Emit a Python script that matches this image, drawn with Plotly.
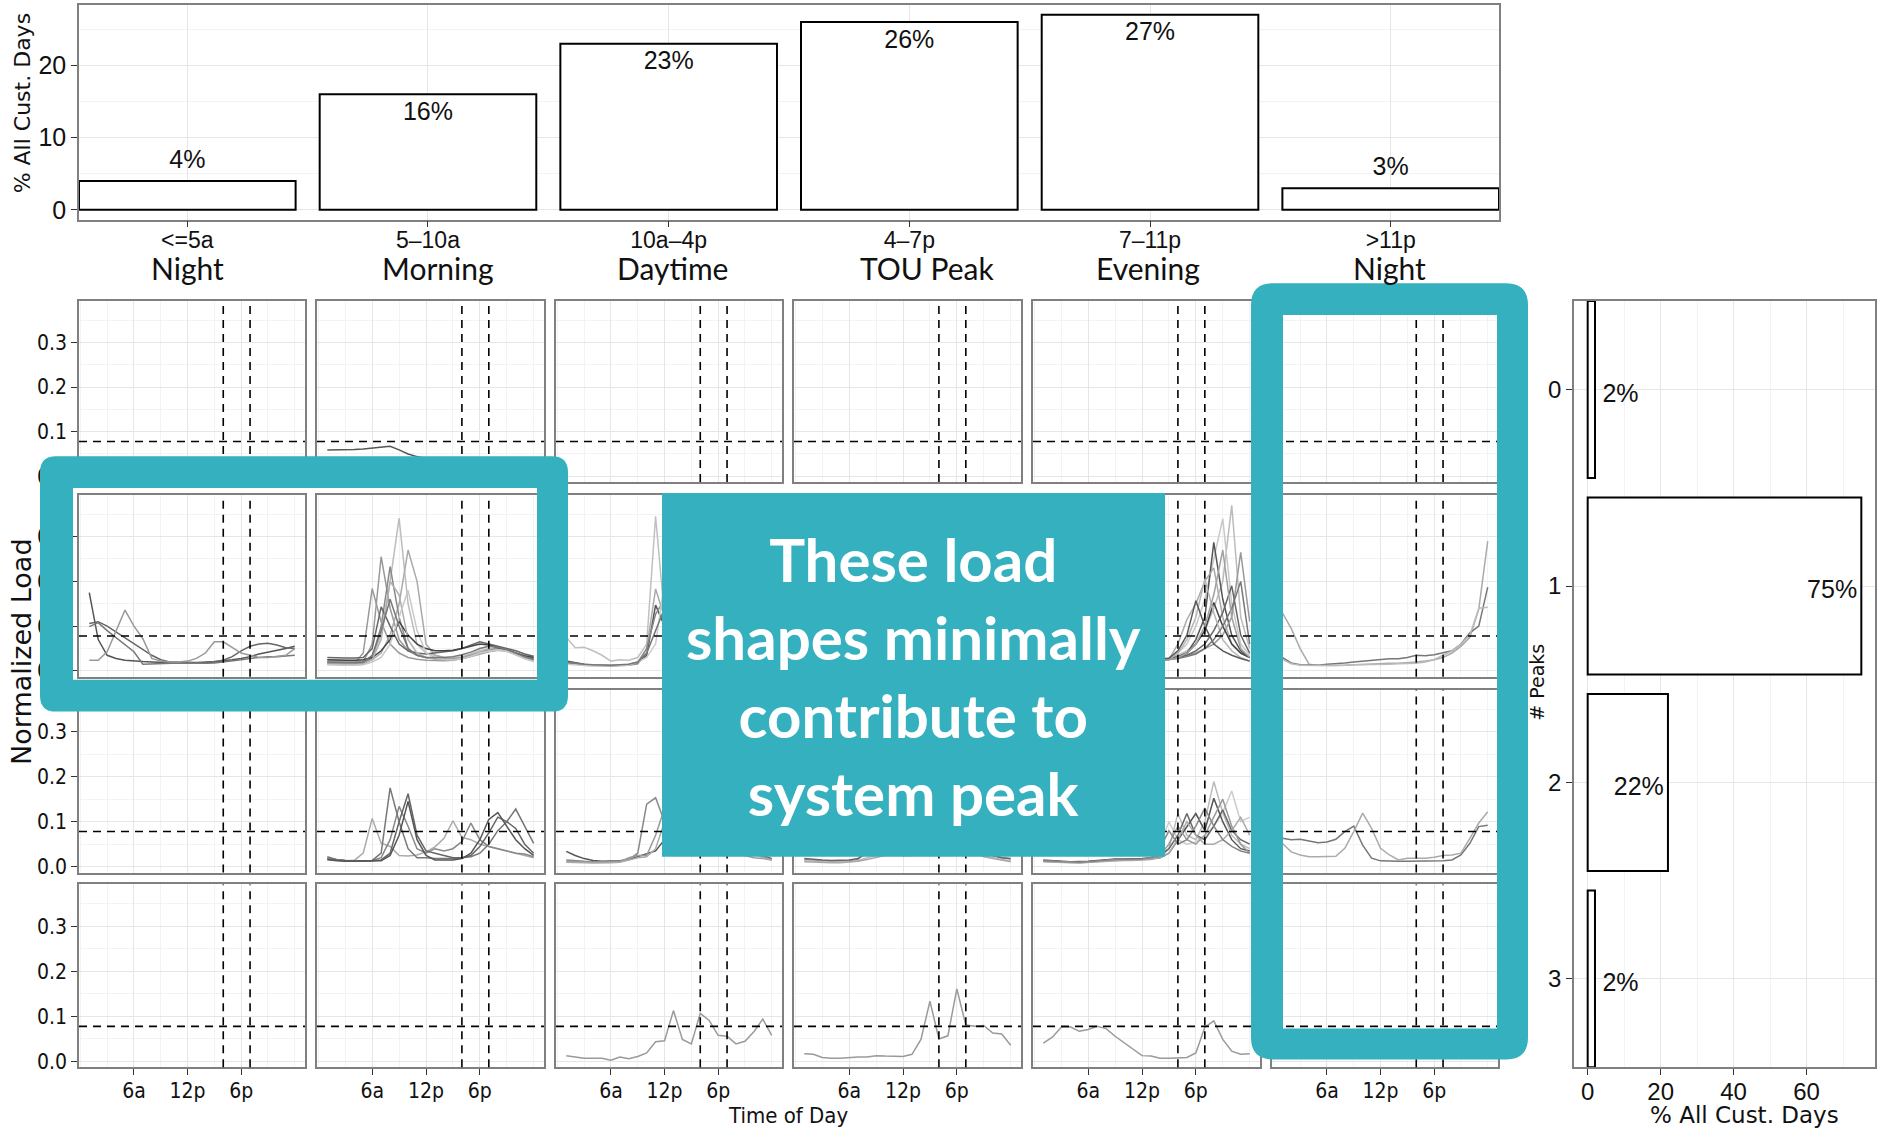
import plotly.graph_objects as go

W, H = 1883, 1130

# ---------------- data ----------------
time_labels = ["<=5a", "5–10a", "10a–4p", "4–7p", "7–11p", ">11p"]
period_names = ["Night", "Morning", "Daytime", "TOU Peak", "Evening", "Night"]
peak_time_share = [4, 16, 23, 26, 27, 3]          # % of all customer-days

n_peaks = [0, 1, 2, 3]
n_peaks_share = [2, 75, 22, 2]                    # % of all customer-days

hours = list(range(1, 25))
hour_ticks = [6, 12, 18]
hour_tick_labels = ["6a", "12p", "6p"]
load_ticks = [0.0, 0.1, 0.2, 0.3]
load_tick_labels = ["0.0", "0.1", "0.2", "0.3"]
top_share_ticks = [0, 10, 20]
right_share_ticks = [0, 20, 40, 60]

tou_window = [16, 19]        # 4p and 7p
peak_threshold = 0.078       # normalized load threshold for a "peak"

# normalized hourly load shapes, grouped by (# peaks, time of main peak)
morning_0peak = [
    [0.059, 0.059, 0.059, 0.060, 0.061, 0.063, 0.065, 0.067, 0.059, 0.050, 0.044, 0.040,
     0.038, 0.037, 0.037, 0.038, 0.039, 0.040, 0.041, 0.041, 0.040, 0.039, 0.038, 0.037],
]
morning_0peak_greys = ["#555555"]

night_1peak = [
    [0.175, 0.070, 0.035, 0.028, 0.024, 0.022, 0.021, 0.020, 0.019, 0.019, 0.018, 0.018,
     0.018, 0.019, 0.020, 0.022, 0.025, 0.028, 0.032, 0.038, 0.042, 0.045, 0.050, 0.055],
    [0.106, 0.110, 0.100, 0.087, 0.075, 0.061, 0.048, 0.035, 0.025, 0.020, 0.020, 0.019,
     0.019, 0.020, 0.021, 0.024, 0.032, 0.045, 0.055, 0.060, 0.062, 0.058, 0.052, 0.050],
    [0.099, 0.108, 0.090, 0.075, 0.060, 0.043, 0.015, 0.016, 0.017, 0.018, 0.018, 0.018,
     0.017, 0.017, 0.018, 0.020, 0.022, 0.025, 0.028, 0.030, 0.032, 0.032, 0.033, 0.035],
    [0.024, 0.024, 0.043, 0.090, 0.136, 0.100, 0.072, 0.028, 0.022, 0.020, 0.020, 0.022,
     0.028, 0.040, 0.065, 0.065, 0.052, 0.040, 0.035, 0.030, 0.030, 0.032, 0.035, 0.050],
]
night_1peak_greys = ["#555555", "#666666", "#777777", "#999999"]

morning_1peak = [
    [0.025, 0.024, 0.023, 0.023, 0.024, 0.030, 0.080, 0.200, 0.341, 0.150, 0.060, 0.040,
     0.035, 0.030, 0.030, 0.032, 0.038, 0.045, 0.050, 0.052, 0.048, 0.040, 0.032, 0.028],
    [0.020, 0.019, 0.019, 0.019, 0.020, 0.060, 0.255, 0.140, 0.070, 0.045, 0.035, 0.030,
     0.028, 0.027, 0.027, 0.030, 0.035, 0.040, 0.045, 0.048, 0.045, 0.038, 0.030, 0.025],
    [0.022, 0.021, 0.021, 0.021, 0.022, 0.025, 0.040, 0.080, 0.150, 0.270, 0.200, 0.060,
     0.035, 0.030, 0.028, 0.030, 0.036, 0.042, 0.048, 0.050, 0.046, 0.040, 0.032, 0.026],
    [0.018, 0.017, 0.017, 0.017, 0.018, 0.030, 0.100, 0.233, 0.120, 0.050, 0.035, 0.030,
     0.027, 0.026, 0.026, 0.028, 0.034, 0.040, 0.046, 0.050, 0.047, 0.040, 0.030, 0.024],
    [0.017, 0.016, 0.016, 0.016, 0.040, 0.184, 0.110, 0.060, 0.040, 0.030, 0.026, 0.024,
     0.023, 0.023, 0.024, 0.027, 0.032, 0.038, 0.043, 0.046, 0.044, 0.037, 0.029, 0.023],
    [0.030, 0.029, 0.029, 0.029, 0.030, 0.050, 0.143, 0.100, 0.060, 0.045, 0.040, 0.038,
     0.040, 0.042, 0.045, 0.050, 0.057, 0.065, 0.060, 0.055, 0.050, 0.045, 0.038, 0.033],
    [0.025, 0.024, 0.024, 0.024, 0.025, 0.030, 0.045, 0.070, 0.110, 0.080, 0.060, 0.050,
     0.045, 0.045, 0.046, 0.050, 0.055, 0.060, 0.058, 0.052, 0.047, 0.040, 0.034, 0.030],
    [0.015, 0.014, 0.014, 0.014, 0.015, 0.025, 0.070, 0.200, 0.170, 0.070, 0.040, 0.030,
     0.026, 0.025, 0.025, 0.027, 0.033, 0.040, 0.045, 0.048, 0.045, 0.038, 0.028, 0.022],
    [0.014, 0.013, 0.013, 0.013, 0.014, 0.020, 0.030, 0.060, 0.120, 0.180, 0.090, 0.040,
     0.030, 0.026, 0.025, 0.027, 0.033, 0.040, 0.044, 0.047, 0.044, 0.036, 0.027, 0.021],
    [0.020, 0.019, 0.019, 0.019, 0.020, 0.035, 0.090, 0.160, 0.100, 0.050, 0.035, 0.030,
     0.030, 0.030, 0.032, 0.036, 0.042, 0.050, 0.055, 0.053, 0.048, 0.040, 0.032, 0.026],
]
morning_1peak_greys = ["#bdbdbd", "#999999", "#aaaaaa", "#888888", "#9a9a9a",
                       "#666666", "#444444", "#b0b0b0", "#c8c8c8", "#777777"]

daytime_1peak = [
    [0.075, 0.052, 0.053, 0.045, 0.035, 0.022, 0.025, 0.024, 0.030, 0.060, 0.345, 0.120,
     0.060, 0.045, 0.040, 0.035, 0.030, 0.030, 0.028, 0.027, 0.026, 0.025, 0.024, 0.024],
    [0.020, 0.016, 0.014, 0.013, 0.012, 0.012, 0.013, 0.015, 0.020, 0.050, 0.183, 0.120,
     0.070, 0.050, 0.040, 0.035, 0.030, 0.028, 0.027, 0.025, 0.024, 0.022, 0.020, 0.020],
    [0.022, 0.018, 0.015, 0.013, 0.012, 0.012, 0.013, 0.014, 0.018, 0.035, 0.147, 0.100,
     0.060, 0.040, 0.035, 0.030, 0.028, 0.026, 0.025, 0.024, 0.022, 0.021, 0.020, 0.020],
    [0.018, 0.015, 0.013, 0.012, 0.011, 0.011, 0.012, 0.013, 0.016, 0.050, 0.127, 0.160,
     0.090, 0.050, 0.040, 0.032, 0.030, 0.028, 0.026, 0.025, 0.023, 0.022, 0.020, 0.019],
    [0.015, 0.013, 0.012, 0.011, 0.011, 0.011, 0.012, 0.013, 0.020, 0.030, 0.060, 0.200,
     0.250, 0.100, 0.050, 0.040, 0.035, 0.030, 0.028, 0.026, 0.025, 0.023, 0.021, 0.020],
    [0.020, 0.017, 0.015, 0.014, 0.013, 0.013, 0.014, 0.015, 0.020, 0.040, 0.090, 0.140,
     0.100, 0.060, 0.045, 0.040, 0.035, 0.032, 0.030, 0.028, 0.026, 0.024, 0.022, 0.021],
]
daytime_1peak_greys = ["#c0c0c0", "#aaaaaa", "#555555", "#888888", "#cccccc", "#777777"]

tou_1peak = [
    [0.020, 0.018, 0.016, 0.015, 0.015, 0.016, 0.020, 0.025, 0.025, 0.024, 0.024, 0.025,
     0.030, 0.040, 0.070, 0.220, 0.150, 0.080, 0.050, 0.040, 0.035, 0.030, 0.025, 0.022],
    [0.018, 0.016, 0.015, 0.014, 0.014, 0.015, 0.018, 0.022, 0.022, 0.022, 0.022, 0.024,
     0.028, 0.035, 0.050, 0.090, 0.180, 0.100, 0.060, 0.045, 0.038, 0.032, 0.026, 0.021],
    [0.015, 0.014, 0.013, 0.012, 0.012, 0.013, 0.016, 0.020, 0.020, 0.020, 0.021, 0.022,
     0.025, 0.030, 0.040, 0.070, 0.120, 0.300, 0.120, 0.060, 0.040, 0.030, 0.024, 0.019],
    [0.022, 0.020, 0.018, 0.017, 0.017, 0.018, 0.022, 0.026, 0.026, 0.025, 0.025, 0.026,
     0.030, 0.035, 0.045, 0.060, 0.090, 0.120, 0.150, 0.080, 0.050, 0.038, 0.030, 0.025],
]
tou_1peak_greys = ["#999999", "#666666", "#bbbbbb", "#777777"]

evening_1peak = [
    [0.020, 0.018, 0.016, 0.015, 0.015, 0.016, 0.020, 0.022, 0.022, 0.021, 0.021, 0.022,
     0.024, 0.026, 0.030, 0.035, 0.045, 0.060, 0.090, 0.140, 0.200, 0.370, 0.120, 0.050],
    [0.018, 0.016, 0.015, 0.014, 0.014, 0.015, 0.018, 0.020, 0.020, 0.020, 0.020, 0.021,
     0.023, 0.025, 0.028, 0.040, 0.060, 0.100, 0.160, 0.250, 0.340, 0.150, 0.060, 0.035],
    [0.020, 0.018, 0.016, 0.015, 0.015, 0.016, 0.018, 0.020, 0.020, 0.020, 0.020, 0.021,
     0.022, 0.024, 0.026, 0.030, 0.040, 0.070, 0.120, 0.287, 0.160, 0.080, 0.045, 0.030],
    [0.017, 0.015, 0.014, 0.013, 0.013, 0.014, 0.017, 0.019, 0.019, 0.019, 0.019, 0.020,
     0.021, 0.023, 0.026, 0.030, 0.035, 0.040, 0.050, 0.060, 0.080, 0.120, 0.265, 0.110],
    [0.016, 0.014, 0.013, 0.012, 0.012, 0.013, 0.016, 0.018, 0.018, 0.018, 0.018, 0.019,
     0.021, 0.023, 0.026, 0.060, 0.115, 0.150, 0.200, 0.230, 0.120, 0.060, 0.040, 0.030],
    [0.019, 0.017, 0.015, 0.014, 0.014, 0.015, 0.018, 0.020, 0.020, 0.020, 0.020, 0.021,
     0.022, 0.024, 0.027, 0.030, 0.035, 0.045, 0.060, 0.090, 0.130, 0.190, 0.080, 0.040],
    [0.020, 0.018, 0.016, 0.015, 0.015, 0.016, 0.019, 0.021, 0.021, 0.021, 0.021, 0.022,
     0.023, 0.025, 0.028, 0.032, 0.040, 0.060, 0.090, 0.153, 0.100, 0.060, 0.040, 0.030],
    [0.015, 0.013, 0.012, 0.011, 0.011, 0.012, 0.015, 0.017, 0.017, 0.017, 0.017, 0.018,
     0.020, 0.022, 0.025, 0.040, 0.070, 0.120, 0.205, 0.130, 0.070, 0.045, 0.030, 0.022],
    [0.018, 0.016, 0.015, 0.014, 0.014, 0.015, 0.017, 0.019, 0.019, 0.019, 0.019, 0.020,
     0.022, 0.024, 0.028, 0.045, 0.080, 0.157, 0.100, 0.060, 0.045, 0.035, 0.028, 0.022],
    [0.017, 0.015, 0.014, 0.013, 0.013, 0.014, 0.017, 0.019, 0.019, 0.019, 0.019, 0.020,
     0.021, 0.023, 0.025, 0.028, 0.032, 0.038, 0.050, 0.070, 0.100, 0.140, 0.200, 0.060],
    [0.016, 0.014, 0.013, 0.012, 0.012, 0.013, 0.016, 0.018, 0.018, 0.018, 0.018, 0.019,
     0.020, 0.022, 0.025, 0.030, 0.040, 0.060, 0.100, 0.170, 0.270, 0.120, 0.050, 0.030],
]
evening_1peak_greys = ["#bbbbbb", "#c8c8c8", "#555555", "#999999", "#aaaaaa", "#666666",
                       "#444444", "#b5b5b5", "#5a5a5a", "#777777", "#a0a0a0"]

late_night_1peak = [
    [0.130, 0.095, 0.050, 0.015, 0.013, 0.012, 0.012, 0.013, 0.014, 0.015, 0.016, 0.016,
     0.017, 0.017, 0.018, 0.020, 0.022, 0.025, 0.030, 0.040, 0.055, 0.075, 0.138, 0.290],
    [0.030, 0.018, 0.014, 0.013, 0.013, 0.015, 0.016, 0.018, 0.020, 0.022, 0.024, 0.026,
     0.027, 0.027, 0.030, 0.035, 0.034, 0.036, 0.040, 0.045, 0.060, 0.085, 0.100, 0.187],
    [0.026, 0.016, 0.013, 0.012, 0.012, 0.012, 0.012, 0.013, 0.014, 0.014, 0.015, 0.015,
     0.015, 0.016, 0.016, 0.017, 0.020, 0.025, 0.035, 0.045, 0.060, 0.080, 0.140, 0.142],
]
late_night_1peak_greys = ["#aaaaaa", "#777777", "#bbbbbb"]

morning_2peak = [
    [0.020, 0.016, 0.014, 0.014, 0.030, 0.107, 0.052, 0.045, 0.025, 0.024, 0.026, 0.033,
     0.044, 0.063, 0.102, 0.065, 0.060, 0.050, 0.045, 0.040, 0.035, 0.030, 0.025, 0.020],
    [0.018, 0.015, 0.013, 0.013, 0.013, 0.014, 0.020, 0.060, 0.134, 0.090, 0.040, 0.030,
     0.040, 0.035, 0.040, 0.056, 0.097, 0.060, 0.045, 0.040, 0.035, 0.030, 0.028, 0.022],
    [0.022, 0.016, 0.014, 0.013, 0.013, 0.014, 0.030, 0.175, 0.100, 0.040, 0.020, 0.020,
     0.018, 0.018, 0.018, 0.020, 0.022, 0.030, 0.050, 0.080, 0.100, 0.128, 0.090, 0.052],
    [0.016, 0.014, 0.013, 0.012, 0.012, 0.013, 0.015, 0.030, 0.100, 0.162, 0.070, 0.035,
     0.030, 0.025, 0.020, 0.020, 0.025, 0.045, 0.075, 0.110, 0.100, 0.085, 0.050, 0.030],
    [0.016, 0.013, 0.012, 0.012, 0.012, 0.012, 0.013, 0.025, 0.070, 0.145, 0.060, 0.025,
     0.015, 0.015, 0.015, 0.018, 0.030, 0.060, 0.105, 0.120, 0.090, 0.060, 0.040, 0.025],
]
morning_2peak_greys = ["#aaaaaa", "#888888", "#777777", "#666666", "#555555"]

daytime_2peak = [
    [0.034, 0.025, 0.018, 0.014, 0.012, 0.012, 0.013, 0.016, 0.022, 0.028, 0.035, 0.060,
     0.100, 0.080, 0.050, 0.030, 0.025, 0.030, 0.060, 0.090, 0.070, 0.040, 0.025, 0.018],
    [0.015, 0.013, 0.012, 0.011, 0.011, 0.011, 0.012, 0.016, 0.030, 0.139, 0.153, 0.100,
     0.060, 0.040, 0.030, 0.025, 0.040, 0.080, 0.110, 0.070, 0.040, 0.030, 0.022, 0.016],
    [0.012, 0.011, 0.010, 0.010, 0.010, 0.010, 0.011, 0.020, 0.025, 0.025, 0.070, 0.130,
     0.090, 0.050, 0.060, 0.110, 0.080, 0.050, 0.035, 0.030, 0.025, 0.020, 0.018, 0.015],
    [0.010, 0.010, 0.009, 0.008, 0.008, 0.009, 0.010, 0.015, 0.020, 0.022, 0.040, 0.100,
     0.120, 0.080, 0.040, 0.030, 0.035, 0.070, 0.120, 0.090, 0.050, 0.030, 0.020, 0.015],
]
daytime_2peak_greys = ["#555555", "#888888", "#999999", "#aaaaaa"]

tou_2peak = [
    [0.016, 0.014, 0.013, 0.012, 0.012, 0.013, 0.016, 0.050, 0.120, 0.060, 0.030, 0.025,
     0.025, 0.030, 0.050, 0.160, 0.080, 0.050, 0.040, 0.035, 0.030, 0.025, 0.020, 0.017],
    [0.013, 0.012, 0.011, 0.010, 0.010, 0.011, 0.014, 0.020, 0.025, 0.030, 0.040, 0.110,
     0.060, 0.040, 0.050, 0.080, 0.140, 0.070, 0.040, 0.030, 0.025, 0.020, 0.016, 0.013],
    [0.018, 0.016, 0.015, 0.014, 0.014, 0.015, 0.018, 0.030, 0.090, 0.050, 0.030, 0.025,
     0.028, 0.035, 0.060, 0.090, 0.070, 0.130, 0.060, 0.040, 0.030, 0.025, 0.020, 0.018],
    [0.011, 0.010, 0.009, 0.009, 0.009, 0.010, 0.012, 0.016, 0.020, 0.025, 0.030, 0.035,
     0.100, 0.050, 0.040, 0.060, 0.120, 0.090, 0.050, 0.030, 0.022, 0.018, 0.014, 0.011],
]
tou_2peak_greys = ["#999999", "#bbbbbb", "#666666", "#aaaaaa"]

evening_2peak = [
    [0.014, 0.012, 0.011, 0.010, 0.010, 0.011, 0.013, 0.015, 0.016, 0.016, 0.016, 0.017,
     0.018, 0.020, 0.040, 0.118, 0.070, 0.060, 0.100, 0.189, 0.120, 0.070, 0.050, 0.040],
    [0.012, 0.011, 0.010, 0.009, 0.009, 0.010, 0.012, 0.014, 0.015, 0.015, 0.015, 0.016,
     0.020, 0.050, 0.100, 0.060, 0.050, 0.055, 0.070, 0.090, 0.120, 0.168, 0.100, 0.110],
    [0.015, 0.013, 0.012, 0.011, 0.011, 0.012, 0.014, 0.016, 0.017, 0.017, 0.017, 0.018,
     0.020, 0.025, 0.040, 0.070, 0.118, 0.070, 0.060, 0.090, 0.126, 0.080, 0.060, 0.050],
    [0.013, 0.012, 0.011, 0.010, 0.010, 0.011, 0.013, 0.015, 0.016, 0.016, 0.016, 0.017,
     0.018, 0.020, 0.030, 0.060, 0.090, 0.118, 0.080, 0.152, 0.100, 0.060, 0.040, 0.035],
    [0.012, 0.011, 0.010, 0.009, 0.009, 0.010, 0.012, 0.014, 0.015, 0.015, 0.015, 0.016,
     0.018, 0.025, 0.050, 0.090, 0.060, 0.050, 0.070, 0.110, 0.150, 0.090, 0.050, 0.030],
    [0.011, 0.010, 0.009, 0.009, 0.009, 0.010, 0.011, 0.013, 0.014, 0.014, 0.014, 0.015,
     0.016, 0.020, 0.030, 0.060, 0.100, 0.070, 0.050, 0.050, 0.060, 0.080, 0.110, 0.070],
    [0.013, 0.012, 0.011, 0.010, 0.010, 0.011, 0.013, 0.015, 0.016, 0.016, 0.016, 0.017,
     0.020, 0.040, 0.080, 0.050, 0.060, 0.090, 0.130, 0.090, 0.060, 0.045, 0.035, 0.030],
]
evening_2peak_greys = ["#bbbbbb", "#cccccc", "#666666", "#555555", "#999999", "#aaaaaa", "#888888"]

late_night_2peak = [
    [0.063, 0.060, 0.061, 0.057, 0.053, 0.055, 0.061, 0.078, 0.090, 0.048, 0.019, 0.013,
     0.012, 0.012, 0.012, 0.012, 0.012, 0.012, 0.013, 0.015, 0.026, 0.052, 0.089, 0.092],
    [0.052, 0.033, 0.026, 0.022, 0.022, 0.022, 0.023, 0.041, 0.078, 0.119, 0.085, 0.041,
     0.026, 0.015, 0.019, 0.019, 0.019, 0.021, 0.025, 0.026, 0.030, 0.063, 0.097, 0.122],
]
late_night_2peak_greys = ["#777777", "#aaaaaa"]

daytime_3peak = [
    [0.013, 0.010, 0.007, 0.007, 0.007, 0.003, 0.010, 0.006, 0.011, 0.019, 0.044, 0.046,
     0.113, 0.049, 0.039, 0.107, 0.091, 0.058, 0.056, 0.039, 0.045, 0.066, 0.094, 0.058],
]
tou_3peak = [
    [0.017, 0.016, 0.009, 0.007, 0.007, 0.009, 0.010, 0.010, 0.013, 0.012, 0.011, 0.011,
     0.016, 0.049, 0.134, 0.050, 0.057, 0.161, 0.081, 0.078, 0.080, 0.063, 0.061, 0.036],
]
evening_3peak = [
    [0.041, 0.054, 0.076, 0.077, 0.067, 0.071, 0.078, 0.073, 0.056, 0.041, 0.028, 0.013,
     0.012, 0.007, 0.007, 0.008, 0.009, 0.019, 0.076, 0.090, 0.049, 0.023, 0.016, 0.017],
]
single_grey = ["#9a9a9a"]

# (row = number of peaks, column = time of main peak) -> (lines, greys)
load_shapes = {
    (0, 1): (morning_0peak, morning_0peak_greys),
    (1, 0): (night_1peak, night_1peak_greys),
    (1, 1): (morning_1peak, morning_1peak_greys),
    (1, 2): (daytime_1peak, daytime_1peak_greys),
    (1, 3): (tou_1peak, tou_1peak_greys),
    (1, 4): (evening_1peak, evening_1peak_greys),
    (1, 5): (late_night_1peak, late_night_1peak_greys),
    (2, 1): (morning_2peak, morning_2peak_greys),
    (2, 2): (daytime_2peak, daytime_2peak_greys),
    (2, 3): (tou_2peak, tou_2peak_greys),
    (2, 4): (evening_2peak, evening_2peak_greys),
    (2, 5): (late_night_2peak, late_night_2peak_greys),
    (3, 2): (daytime_3peak, single_grey),
    (3, 3): (tou_3peak, single_grey),
    (3, 4): (evening_3peak, single_grey),
}

# ---------------- styling ----------------
TEAL = "#34B0BE"
BORDER = "#808080"
GRID_MAJOR = "#E6E6E6"
GRID_MINOR = "#F3F3F3"
TEXT = "#111111"
NARROW = "DejaVu Sans Condensed, Liberation Sans, sans-serif"
SANS = "Liberation Sans, Arial, sans-serif"
WIDE = "DejaVu Sans, sans-serif"
CALLOUT = "Lato, Open Sans, sans-serif"

# horizontal centres (px) of the period names under the top chart
period_label_px = [187, 438, 672, 927, 1148, 1389]


def xdom(a, b):
    return [a / W, b / W]


def ydom(top, bottom):
    return [1 - bottom / H, 1 - top / H]


def px(x, y):
    return f"{x / W:.5f},{1 - y / H:.5f}"


def rounded_rect(x0, y0, x1, y1, r):
    return (f"M{px(x0 + r, y0)} L{px(x1 - r, y0)} Q{px(x1, y0)} {px(x1, y0 + r)} "
            f"L{px(x1, y1 - r)} Q{px(x1, y1)} {px(x1 - r, y1)} L{px(x0 + r, y1)} "
            f"Q{px(x0, y1)} {px(x0, y1 - r)} L{px(x0, y0 + r)} Q{px(x0, y0)} {px(x0 + r, y0)} Z")


def plain_rect(x0, y0, x1, y1):
    return f"M{px(x0, y0)} L{px(x1, y0)} L{px(x1, y1)} L{px(x0, y1)} Z"


frame = dict(showline=True, mirror=True, linecolor=BORDER, linewidth=1.6,
             zeroline=False, fixedrange=True, showgrid=True,
             gridcolor=GRID_MAJOR, gridwidth=1.2,
             tickcolor="#333333", tickwidth=1.3, ticklen=6)

fig = go.Figure()
layout = {}

# ---------- top: share of customer-days by time of main peak ----------
cat_pos = list(range(1, len(time_labels) + 1))
fig.add_trace(go.Bar(x=cat_pos, y=peak_time_share, width=0.9,
                     marker=dict(color="white", line=dict(color="black", width=2)),
                     xaxis="x", yaxis="y", hoverinfo="skip"))
top_label_y = [v + 2.7 if v < 10 else v - 2.7 for v in peak_time_share]
fig.add_trace(go.Scatter(x=cat_pos, y=top_label_y, mode="text",
                         text=[f"{v}%" for v in peak_time_share],
                         textfont=dict(family=SANS, size=25, color=TEXT),
                         xaxis="x", yaxis="y", hoverinfo="skip"))
layout["xaxis"] = dict(frame, domain=xdom(79, 1499), range=[0.55, 6.45], anchor="y",
                       tickmode="array", tickvals=cat_pos, ticktext=time_labels,
                       ticks="outside", ticklabelstandoff=-7,
                       tickfont=dict(family=SANS, size=23, color=TEXT))
layout["yaxis"] = dict(frame, domain=ydom(5, 221), range=[-1.35, 28.35], anchor="x",
                       tickmode="array", tickvals=top_share_ticks, ticks="outside",
                       tickfont=dict(family=SANS, size=25, color=TEXT),
                       minor=dict(tickmode="linear", tick0=0, dtick=5, showgrid=True,
                                  gridcolor=GRID_MINOR, gridwidth=1))

# ---------- grid of load shapes ----------
col_px = [(79, 305), (317, 544), (556, 782), (794, 1021), (1033, 1260), (1272, 1498)]
row_px = [(303, 485), (498, 681), (694, 878), (890, 1074)]
shapes = []

for r, (ry0, ry1) in enumerate(row_px):
    for c, (cx0, cx1) in enumerate(col_px):
        k = 2 + r * 6 + c
        xa, ya = f"x{k}", f"y{k}"
        layout[f"xaxis{k}"] = dict(
            frame, domain=xdom(cx0, cx1), range=[-0.15, 25.15], anchor=ya,
            tickmode="array", tickvals=hour_ticks, ticktext=hour_tick_labels,
            showticklabels=(r == 3), ticks="outside" if r == 3 else "",
            ticklabelstandoff=-2,
            tickfont=dict(family=NARROW, size=21, color=TEXT),
            minor=dict(tickmode="linear", tick0=0, dtick=3, showgrid=True,
                       gridcolor=GRID_MINOR, gridwidth=1))
        layout[f"yaxis{k}"] = dict(
            frame, domain=ydom(ry0, ry1), range=[-0.013, 0.393], anchor=xa,
            tickmode="array", tickvals=load_ticks, ticktext=load_tick_labels,
            showticklabels=(c == 0), ticks="outside" if c == 0 else "",
            tickfont=dict(family=NARROW, size=21, color=TEXT),
            minor=dict(tickmode="linear", tick0=0, dtick=0.05, showgrid=True,
                       gridcolor=GRID_MINOR, gridwidth=1))

        lines, greys = load_shapes.get((r, c), ([], []))
        for vals, grey in zip(lines, greys):
            fig.add_trace(go.Scatter(x=hours, y=vals, mode="lines",
                                     line=dict(color=grey, width=1.5),
                                     xaxis=xa, yaxis=ya, hoverinfo="skip"))

        dash = dict(color="black", width=1.6, dash="8px,6px")
        shapes.append(dict(type="line", xref=f"{xa} domain", yref=ya,
                           x0=0, x1=1, y0=peak_threshold, y1=peak_threshold, line=dash))
        for t in tou_window:
            shapes.append(dict(type="line", xref=xa, yref=f"{ya} domain",
                               x0=t, x1=t, y0=0, y1=1, line=dash))

# ---------- right: share of customer-days by number of peaks ----------
fig.add_trace(go.Bar(y=n_peaks, x=n_peaks_share, orientation="h", width=0.9,
                     marker=dict(color="white", line=dict(color="black", width=2)),
                     xaxis="x26", yaxis="y26", hoverinfo="skip"))
right_label_x = [v + 7 if v < 10 else v - 8 for v in n_peaks_share]
right_label_y = [p + 0.03 for p in n_peaks]
fig.add_trace(go.Scatter(x=right_label_x, y=right_label_y, mode="text",
                         text=[f"{v}%" for v in n_peaks_share],
                         textfont=dict(family=SANS, size=25, color=TEXT),
                         xaxis="x26", yaxis="y26", hoverinfo="skip"))
layout["xaxis26"] = dict(frame, domain=xdom(1574, 1875), range=[-3.75, 78.75], anchor="y26",
                         tickmode="array", tickvals=right_share_ticks, ticks="outside",
                         ticklabelstandoff=-4,
                         tickfont=dict(family=SANS, size=24, color=TEXT),
                         minor=dict(tickmode="linear", tick0=0, dtick=10, showgrid=True,
                                    gridcolor=GRID_MINOR, gridwidth=1))
layout["yaxis26"] = dict(frame, domain=ydom(303, 1074), range=[3.45, -0.45], anchor="x26",
                         tickmode="array", tickvals=n_peaks, ticks="outside",
                         tickfont=dict(family=SANS, size=24, color=TEXT))

# ---------- highlight overlays ----------
shapes.append(dict(type="path", xref="paper", yref="paper", layer="above",
                   path=rounded_rect(40, 459, 568, 716, 16) + " " + plain_rect(73, 491, 537, 684),
                   fillcolor=TEAL, fillrule="evenodd", line=dict(width=0)))
shapes.append(dict(type="path", xref="paper", yref="paper", layer="above",
                   path=rounded_rect(1251, 285, 1528, 1066, 22) + " " + plain_rect(1283, 317, 1497, 1035),
                   fillcolor=TEAL, fillrule="evenodd", line=dict(width=0)))
shapes.append(dict(type="rect", xref="paper", yref="paper", layer="above",
                   x0=662 / W, x1=1165 / W, y0=1 - 862 / H, y1=1 - 496 / H,
                   fillcolor=TEAL, line=dict(width=0)))

# ---------- text ----------
annotations = []
for name, xc in zip(period_names, period_label_px):
    annotations.append(dict(x=xc / W, y=1 - 270 / H, text=name,
                            font=dict(family=CALLOUT, size=30, color=TEXT)))

annotations += [
    dict(x=22 / W, y=1 - 104 / H, text="% All Cust. Days", textangle=-90,
         font=dict(family=WIDE, size=22, color=TEXT)),
    dict(x=22 / W, y=1 - 656 / H, text="Normalized Load", textangle=-90,
         font=dict(family=WIDE, size=27, color=TEXT)),
    dict(x=788 / W, y=1 - 1122 / H, text="Time of Day",
         font=dict(family=NARROW, size=22, color=TEXT)),
    dict(x=1537 / W, y=1 - 687 / H, text="# Peaks", textangle=-90,
         font=dict(family=WIDE, size=19, color=TEXT)),
    dict(x=1744 / W, y=1 - 1122 / H, text="% All Cust. Days",
         font=dict(family=WIDE, size=23, color=TEXT)),
    dict(x=913 / W, y=1 - 680 / H,
         text="These load<br>shapes minimally<br>contribute to<br>system peak",
         font=dict(family=CALLOUT, size=60, color="white", weight=700)),
]
for a in annotations:
    a.update(xref="paper", yref="paper", showarrow=False, xanchor="center", yanchor="middle")

fig.update_layout(
    width=W, height=H, autosize=False,
    margin=dict(l=0, r=0, t=0, b=0),
    paper_bgcolor="white", plot_bgcolor="white",
    showlegend=False, shapes=shapes, annotations=annotations,
    **layout,
)

fig.write_html("out.html")
